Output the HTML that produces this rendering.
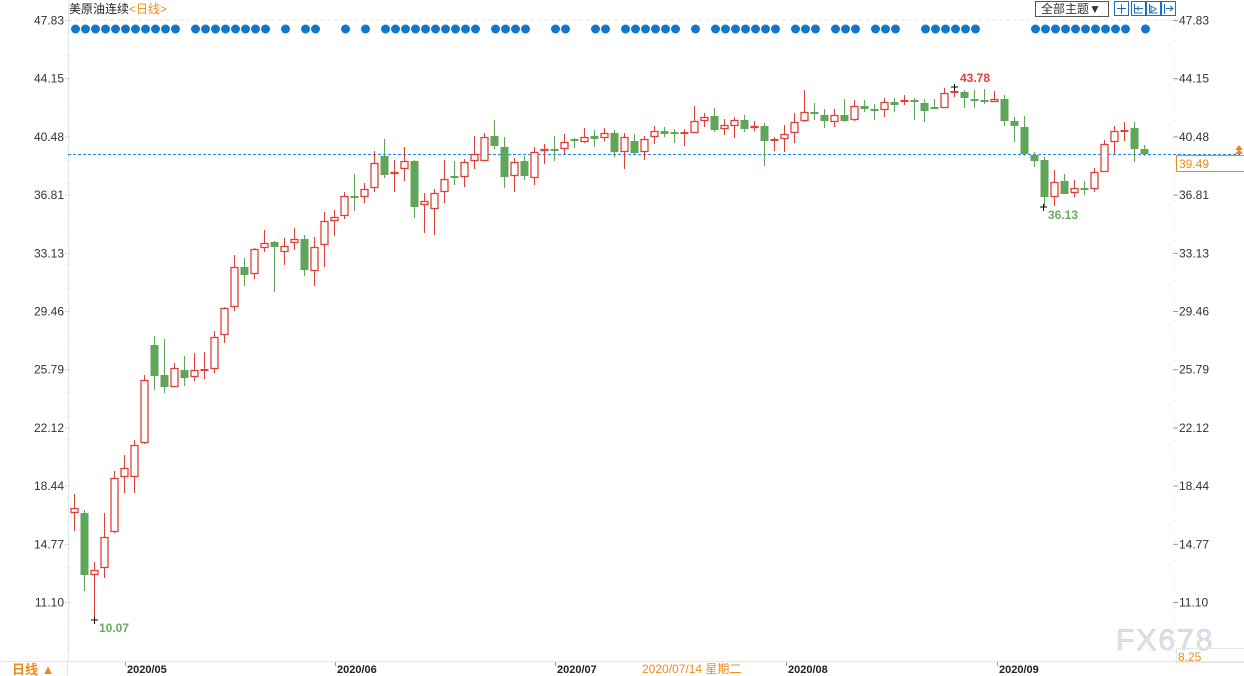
<!DOCTYPE html>
<html><head><meta charset="utf-8">
<style>
html,body{margin:0;padding:0;background:#fff;width:1244px;height:676px;overflow:hidden;font-family:"Liberation Sans","Noto Sans CJK SC",sans-serif;}
svg{display:block}
</style></head><body>
<svg id="s" width="1244" height="676" xmlns="http://www.w3.org/2000/svg" font-family="Liberation Sans, Noto Sans CJK SC, sans-serif">
<line x1="68" y1="20" x2="1176" y2="20" stroke="#e6e6e6" stroke-dasharray="4,3"/>
<line x1="68.5" y1="0" x2="68.5" y2="661" stroke="#dfe8ef"/>
<line x1="1175.5" y1="20" x2="1175.5" y2="661" stroke="#e2e2e2" stroke-dasharray="1,9"/>
<line x1="0" y1="661.5" x2="1244" y2="661.5" stroke="#dfe6ec"/>
<line x1="67.5" y1="661" x2="67.5" y2="676" stroke="#dfe6ec"/>
<text x="69" y="13" font-size="12" fill="#222">美原油连续<tspan fill="#f08a1c">&lt;日线&gt;</tspan></text>
<g id="ax" font-size="12" fill="#333"></g>
<g id="dots" fill="#1476c6"></g>
<line x1="68" y1="154.5" x2="1240" y2="154.5" stroke="#1a8cf0" stroke-dasharray="3,2"/>
<g id="c"></g>
<text x="960" y="82" font-size="12" font-weight="bold" fill="#e0403a">43.78</text>
<path d="M951 87h7M954.5 84v7" stroke="#000" stroke-width="1"/>
<text x="1048" y="219" font-size="12" font-weight="bold" fill="#6aaa60">36.13</text>
<path d="M1040 207h7M1043.5 204v7" stroke="#000" stroke-width="1"/>
<text x="99" y="632" font-size="12" font-weight="bold" fill="#6aaa60">10.07</text>
<path d="M91 620h7M94.5 617v7" stroke="#000" stroke-width="1"/>
<rect x="1176.5" y="155.5" width="68" height="16" fill="#fff" stroke="#f08a1c"/>
<text x="1179" y="168" font-size="12" fill="#f08a1c">39.49</text>
<path d="M1235 154l4-5 4 5zM1235 150l4-5 4 5z" fill="#f08a1c"/>
<text x="1116" y="650" font-size="30" fill="#d6e3f2" stroke="#c9c2bb" stroke-width="0.4" letter-spacing="2">FX678</text>
<rect x="1176.5" y="648.5" width="68" height="14" fill="none" stroke="#e4e8ec"/>
<text x="1178" y="661" font-size="12" fill="#f08a1c">8.25</text>
<text x="12" y="674" font-size="13" font-weight="bold" fill="#f08a1c">日线 ▲</text>
<g font-size="11" font-weight="bold" fill="#222">
<text x="127" y="673">2020/05</text><text x="337" y="673">2020/06</text><text x="557" y="673">2020/07</text><text x="788" y="673">2020/08</text><text x="999" y="673">2020/09</text></g>
<g stroke="#999"><line x1="125.5" y1="662" x2="125.5" y2="666"/><line x1="335.5" y1="662" x2="335.5" y2="666"/><line x1="555.5" y1="662" x2="555.5" y2="666"/><line x1="786.5" y1="662" x2="786.5" y2="666"/><line x1="997.5" y1="662" x2="997.5" y2="666"/></g>
<text x="642" y="673" font-size="12" fill="#f08a1c">2020/07/14 星期二</text>
<rect x="1035.5" y="1.5" width="73" height="15" fill="#fff" stroke="#555"/>
<text x="1041" y="13" font-size="12" fill="#333">全部主题▼</text>
<g fill="#fff" stroke="#1a6fc0"><rect x="1114.5" y="1.5" width="14" height="14"/><rect x="1131.5" y="1.5" width="14" height="14"/><rect x="1146.5" y="1.5" width="14" height="14"/><rect x="1161.5" y="1.5" width="14" height="14"/></g>
<g stroke="#1a6fc0" fill="none"><path d="M1121.5 4v10M1117 8.5h9"/><path d="M1134.5 4v9h8M1138 6v5M1135 8.5h8"/><path d="M1149.5 4v9h8M1151 6l5 3-5 3z"/><path d="M1164.5 4v10M1166 8.5h7M1170 6l3 2.5-3 2.5"/></g>
</svg>
<script>
var ns="http://www.w3.org/2000/svg";
function el(p,t,a){var e=document.createElementNS(ns,t);for(var k in a)e.setAttribute(k,a[k]);p.appendChild(e);return e;}
var ax=document.getElementById('ax');
var labs=["47.83","44.15","40.48","36.81","33.13","29.46","25.79","22.12","18.44","14.77","11.10"];
for(var i=0;i<labs.length;i++){var y=20+i*58.2;
 el(ax,'text',{x:64,y:y+4.5,'text-anchor':'end'}).textContent=labs[i];
 el(ax,'text',{x:1179,y:y+4.5}).textContent=labs[i];
 el(ax,'line',{x1:65,y1:y+.5,x2:70,y2:y+.5,stroke:'#cfd9e2'});
 el(ax,'line',{x1:1173,y1:y+.5,x2:1178,y2:y+.5,stroke:'#999'});
 for(var j=1;j<5;j++){var yy=Math.round(y+j*11.64)+.5;el(ax,'line',{x1:66,y1:yy,x2:68,y2:yy,stroke:'#dde6ee'});}
}
var D=[
['r',508,513,494,531],['g',513,575,510,591],['r',570,575,562,620],['r',537,568,513,578],['r',478,532,471,533],
['r',468,477,455,493],['r',445,477,440,493],['r',380,443,375,444],['g',345,376,336,390],['g',375,387,339,393],
['r',368,387,363,387],['g',370,378,356,386],['r',370,377,353,381],['r',370,370,352,379],['r',337,369,331,373],
['r',308,335,307,343],['r',267,307,255,311],['g',267,275,258,286],['r',249,274,248,279],['r',243,248,230,252],
['g',242,247,241,292],['r',246,252,238,265],['r',239,243,228,250],['g',239,270,235,276],['r',247,271,237,286],
['r',221,245,212,267],['r',217,221,210,236],['r',196,216,192,219],['g',197,197,174,211],['r',189,197,183,203],
['r',163,188,151,192],['g',156,175,139,178],['r',172,174,160,192],['r',161,169,147,181],['g',161,207,160,218],
['r',201,205,193,233],['r',193,209,189,235],['r',179,192,160,203],['g',177,177,161,185],['r',162,177,159,187],
['r',154,161,136,169],['r',137,161,133,161],['g',136,146,120,149],['g',147,177,137,188],['r',162,176,158,192],
['g',161,176,156,180],['r',152,178,147,185],['r',149,151,144,164],['g',150,150,136,161],['r',142,149,134,154],
['g',140,140,138,148],['r',137,142,128,143],['g',136,139,130,147],['r',133,138,128,141],['g',133,152,130,157],
['r',137,152,133,169],['g',141,153,134,154],['r',139,152,136,160],['r',131,137,126,144],['g',131,134,127,137],
['g',132,134,129,143],['r',133,134,129,146],['r',121,133,106,133],['r',117,121,113,127],['g',116,130,108,132],
['r',125,129,119,135],['r',120,126,117,138],['g',120,129,115,132],['r',126,128,121,131],['g',126,141,123,166],
['r',140,140,137,151],['r',134,139,125,152],['r',122,133,113,143],['r',112,121,90,122],['g',112,114,103,120],
['g',115,121,109,128],['r',115,122,109,127],['g',115,121,99,122],['r',106,120,100,121],['g',106,109,100,112],
['g',110,110,104,120],['r',102,110,98,117],['g',102,105,98,112],['r',101,101,95,105],['g',100,102,98,120],
['g',103,111,99,122],['g',107,109,99,109],['r',93,108,88,108],['r',92,92,86,97],['g',92,98,90,108],
['g',100,100,90,108],['g',100,102,89,104],['r',99,102,91,102],['g',99,121,95,126],['g',121,126,117,142],
['g',127,154,116,156],['g',155,161,152,167],['g',160,197,157,207],['r',182,197,170,206],['g',181,194,174,194],
['r',188,193,180,197],['g',189,189,181,195],['r',172,189,168,192],['r',144,172,140,172],['r',131,142,126,154],
['r',131,131,122,141],['g',128,149,122,162],['g',149,154,145,156]];
var c=document.getElementById('c');
for(var i=0;i<D.length;i++){var d=D[i],x=74+10*i,col=d[0]=='r'?'#e0403a':'#5fa55a';
 el(c,'line',{x1:x+.5,y1:d[3],x2:x+.5,y2:d[4],stroke:col,'stroke-width':1});
 var h=d[2]-d[1];
 if(h<2){el(c,'rect',{x:x-3.5,y:d[1]-1,width:8,height:2,fill:col});}
 else if(d[0]=='r'){el(c,'rect',{x:x-3,y:d[1]+.5,width:7,height:h-1,fill:'#fff',stroke:col,'stroke-width':1.3});}
 else{el(c,'rect',{x:x-3.5,y:d[1],width:8,height:h,fill:col});}
}
var dots=document.getElementById('dots');
var R=[[0,10],[12,19],[21,21],[23,24],[27,27],[29,29],[31,40],[42,45],[48,49],[52,53],[55,60],[62,62],[64,70],[72,74],[76,78],[80,82],[85,90],[96,105],[107,107]];
R.forEach(function(r){for(var i=r[0];i<=r[1];i++)el(dots,'circle',{cx:75.5+10*i,cy:29,r:4.5});});
</script>
</body></html>
